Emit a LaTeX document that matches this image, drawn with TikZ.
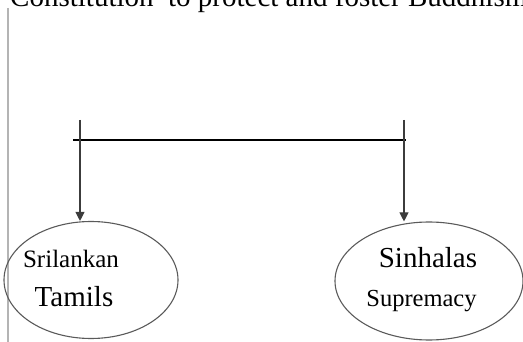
\documentclass[tikz,border=0pt]{standalone}
\usepackage{fontspec}
\setmainfont{Liberation Serif}
\usepackage{xcolor}
\usetikzlibrary{arrows.meta}
\usetikzlibrary{shapes.geometric}

\definecolor{rimgray}{HTML}{5A5A5A}
\definecolor{margingray}{HTML}{B4B4B4}
\definecolor{arrowgray}{HTML}{3C3C3C}

\tikzset{
    group/.style={ellipse,draw=rimgray,line width=1.1pt,inner sep=0pt},
    word/.style={anchor=base,inner sep=0pt,text=black},
    down/.style={draw=arrowgray,line width=1.1pt,-{Triangle[length=9pt,width=9pt]}}
}

\begin{document}
\begin{tikzpicture}[x=1pt,y=-1pt]
        \useasboundingbox (0,0) rectangle (523,342);
        \clip (0,0) rectangle (523,342);

        % cut off line of the page above
        \node[anchor=base west,inner sep=0pt] (title) at (10,6.5)
            {\fontsize{29}{35}\selectfont Constitution\ \ to protect and foster Buddhism};
        \draw[margingray,line width=2pt] (8,8) -- (8,342);

        % the two groups
        \node[group,minimum width=174pt,minimum height=117pt] (tamils) at (91,280) {};
        \node[group,minimum width=188pt,minimum height=118pt] (sinhalas) at (429,281) {};

        \node[word] (tamilsA) at (71,268) {\fontsize{25}{30}\selectfont Srilankan};
        \node[word] (tamilsB) at (74,307) {\fontsize{29}{34}\selectfont Tamils};
        \node[word] (sinhalasA) at (428,268) {\fontsize{29}{34}\selectfont Sinhalas};
        \node[word] (sinhalasB) at (421.5,307) {\fontsize{24.5}{30}\selectfont Supremacy};

        % bar and arrows
        \coordinate (la) at (80,120);
        \coordinate (ra) at (404,120);
        \coordinate (bl) at (73,140);
        \coordinate (br) at (406,140);
        \draw[black,line width=2.2pt] (bl) -- (br);
        \draw[down] (la) -- (la |- tamils.north);
        \draw[down] (ra) -- (ra |- sinhalas.north);
    \end{tikzpicture}
\end{document}
